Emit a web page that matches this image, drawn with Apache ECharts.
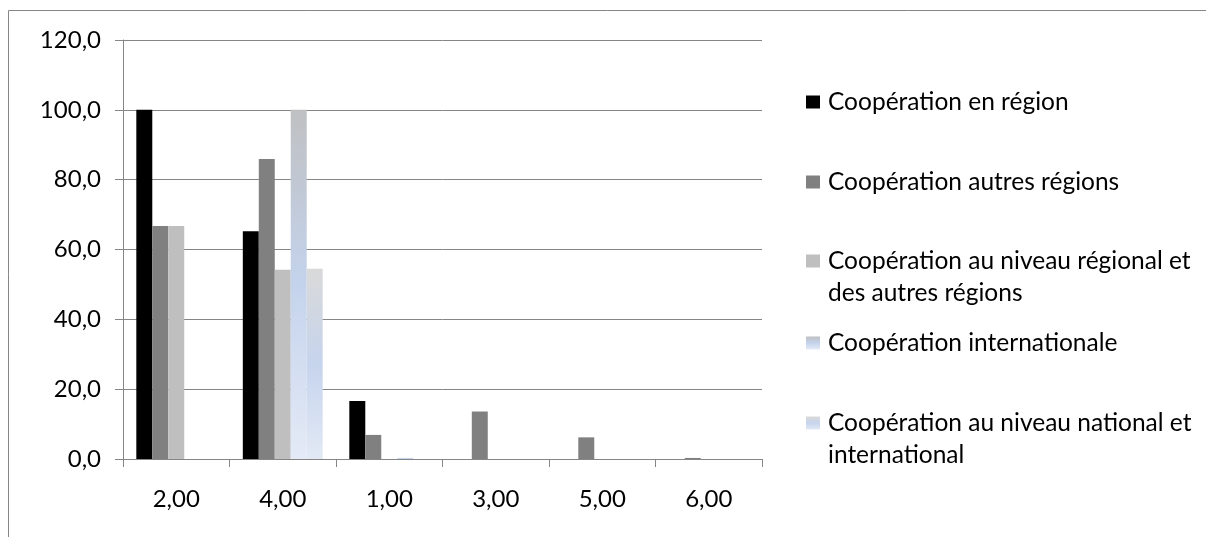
<!DOCTYPE html>
<html>
<head>
<meta charset="utf-8">
<script src="https://cdn.jsdelivr.net/npm/echarts@6/dist/echarts.min.js"></script>
<style>
html,body{margin:0;padding:0;background:#fff;}
#chart{width:1206px;height:537px;}
</style>
</head>
<body>
<div id="chart"></div>
<script>
const categories = ['2,00', '4,00', '1,00', '3,00', '5,00', '6,00'];
const seriesNames = [
  'Coopération en région',
  'Coopération autres régions',
  'Coopération au niveau régional et des autres régions',
  'Coopération internationale',
  'Coopération au niveau national et international'
];
const enRegion       = [100.0, 65.2, 16.6, 0, 0, 0];
const autresRegions  = [66.7, 85.9, 6.9, 13.6, 6.2, 0.3];
const regionalAutres = [66.7, 54.2, 0, 0, 0, 0];
const internationale = [0, 100.0, 0.3, 0, 0, 0];
const nationalInter  = [0, 54.5, 0, 0, 0, 0];
const yTicks = [0, 20, 40, 60, 80, 100, 120];

const FONT = 'Lato';
const grad = (stops) => new echarts.graphic.LinearGradient(0, 0, 0, 1, stops.map((c) => ({offset: c[0], color: c[1]})));
const colors = [
  '#000000',
  '#808080',
  '#bfbfbf',
  grad([[0, '#bfc0c2'], [0.5, '#c4d3ec'], [1, '#e4eaf6']]),
  grad([[0, '#d9d9d9'], [0.5, '#c6d4ed'], [1, '#e2e9f5']])
];
const values = [enRegion, autresRegions, regionalAutres, internationale, nationalInter];

// two-line legend entries: a leading empty line keeps the first line level with the icon
const wrapNames = {
  'Coopération au niveau régional et des autres régions': '\nCoopération au niveau régional et\ndes autres régions',
  'Coopération au niveau national et international': '\nCoopération au niveau national et\ninternational'
};
const legendTops = [86, 166, 213, 327, 375];

const legends = seriesNames.map((n, i) => ({
  data: [n],
  orient: 'vertical',
  left: 806,
  top: legendTops[i],
  padding: 0,
  itemWidth: 14,
  itemHeight: 13,
  icon: 'rect',
  selectedMode: false,
  formatter: (name) => wrapNames[name] || name,
  textStyle: {
    fontFamily: FONT,
    fontSize: 24.5,
    color: '#000',
    lineHeight: 32,
    padding: [0, 0, 0, 3]
  }
}));

const chart = echarts.init(document.getElementById('chart'));
chart.setOption({
  animation: false,
  backgroundColor: '#fff',
  textStyle: {fontFamily: FONT},
  graphic: [{
    type: 'rect',
    shape: {x: 8.5, y: 10.5, width: 1300, height: 600},
    style: {fill: 'none', stroke: '#868686', lineWidth: 1},
    silent: true
  }],
  legend: legends,
  grid: {left: 123, right: 444, top: 40, bottom: 78, containLabel: false},
  xAxis: {
    type: 'category',
    data: categories,
    axisLine: {lineStyle: {color: '#868686', width: 1}},
    axisTick: {show: true, length: 8, alignWithLabel: false, lineStyle: {color: '#868686'}},
    axisLabel: {fontFamily: FONT, fontSize: 24, color: '#000', margin: 28}
  },
  yAxis: {
    type: 'value',
    min: yTicks[0],
    max: yTicks[yTicks.length - 1],
    interval: 20,
    axisLine: {show: true, lineStyle: {color: '#868686', width: 1}},
    axisTick: {show: true, length: 8, lineStyle: {color: '#868686'}},
    splitLine: {show: true, lineStyle: {color: '#868686', width: 1}},
    axisLabel: {
      fontFamily: FONT, fontSize: 24, color: '#000', margin: 22,
      formatter: (v) => v.toFixed(1).replace('.', ',')
    }
  },
  series: seriesNames.map((n, i) => ({
    name: n,
    type: 'bar',
    data: values[i],
    barGap: '0%',
    barCategoryGap: '25%',
    itemStyle: {color: colors[i]}
  }))
});
</script>
</body>
</html>
